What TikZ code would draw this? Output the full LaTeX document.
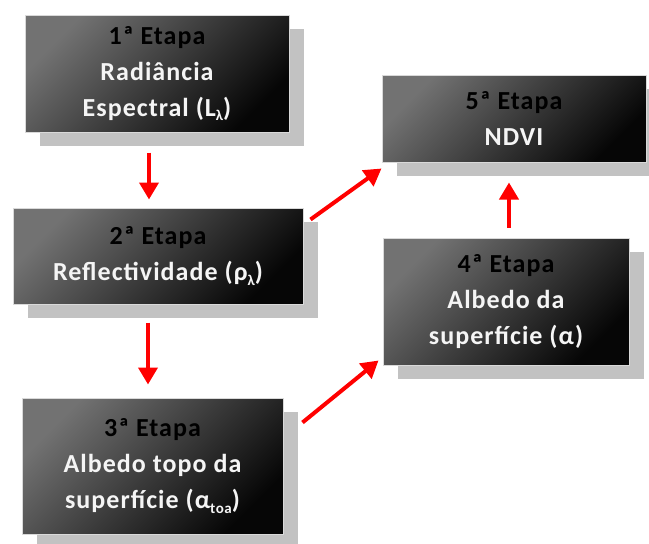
\documentclass[tikz,border=0pt]{standalone}
\usepackage{fontspec}
\setmainfont{Carlito}[LetterSpace=4]
\usetikzlibrary{arrows.meta,shadows}
\definecolor{boxtop}{HTML}{727272}
\definecolor{boxbot}{HTML}{060606}
\definecolor{arrred}{HTML}{FF0000}
\newcommand{\lowtxt}[1]{\raisebox{-0.35ex}{\fontsize{15}{15}\selectfont #1}}

\begin{document}
\begin{tikzpicture}[x=1pt, y=-1pt,
  font=\fontsize{26}{36}\selectfont\bfseries, every node/.style={align=center},
  etapa/.style={draw=black!15, line width=1pt, inner sep=0pt, text=white!96!black,
                top color=boxtop, bottom color=boxbot, shading angle=45,
                drop shadow={shadow xshift=15pt, shadow yshift=-14pt,
                             fill=black!24, opacity=1}},
  arr/.style={draw=arrred, line width=4pt,
              -{Triangle[length=17pt,width=19pt]}},
]
\useasboundingbox (0,0) rectangle (649,544);
% etapas
\node[etapa, minimum width=264pt, minimum height=117pt] (e1) at (157,73.5)
  {\textcolor{black}{1ª Etapa}\\Radiância\\Espectral (L\lowtxt{λ})};
\node[etapa, minimum width=290pt, minimum height=96pt] (e2) at (158,256)
  {\textcolor{black}{2ª Etapa}\\Reflectividade (ρ\lowtxt{λ})};
\node[etapa, minimum width=261pt, minimum height=136pt] (e3) at (152.5,466)
  {\textcolor{black}{3ª Etapa}\\Albedo topo da\\superfície (α\lowtxt{toa})};
\node[etapa, minimum width=246pt, minimum height=127pt] (e4) at (506,301.5)
  {\textcolor{black}{4ª Etapa}\\Albedo da\\superfície (α)};
\node[etapa, minimum width=264pt, minimum height=87pt] (e5) at (514,118.5)
  {\textcolor{black}{5ª Etapa}\\NDVI};
% setas
\draw[arr] ([xshift=-8pt,yshift=-20pt]e1.south) -- ([xshift=-9pt,yshift=8pt]e2.north);
\draw[arr] ([xshift=-10pt,yshift=-18pt]e2.south) -- ([xshift=-4.5pt,yshift=13pt]e3.north);
\draw[arr] ([xshift=7pt,yshift=-12pt]e2.north east) -- ([yshift=-6pt]e5.south west);
\draw[arr] ([xshift=19pt,yshift=-25pt]e3.north east) -- ([xshift=-4pt,yshift=5pt]e4.south west);
\draw[arr] ([xshift=3pt,yshift=10pt]e4.north) -- ([xshift=-5pt,yshift=-20pt]e5.south);
\end{tikzpicture}
\end{document}
